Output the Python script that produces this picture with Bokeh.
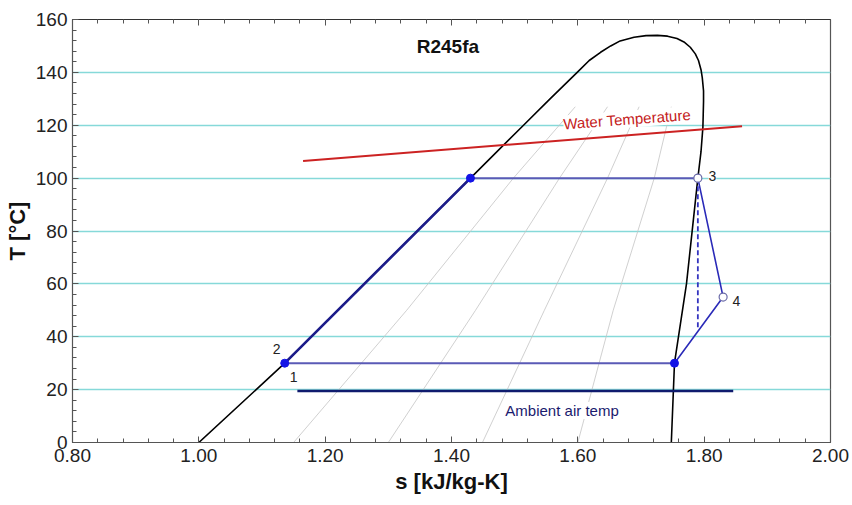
from bokeh.plotting import figure
from bokeh.models import (LinearAxis, SingleIntervalTicker, NumeralTickFormatter,
                          Range1d, Label, CustomLabelingPolicy)
from bokeh.embed import file_html
from bokeh.resources import INLINE

# ---------------- data ----------------
# saturation dome (liquid side -> critical point -> vapour side)
dome_s = [1.000, 1.136, 1.262, 1.430, 1.472, 1.514, 1.556, 1.599, 1.618, 1.636,
          1.652, 1.667, 1.689, 1.708, 1.726, 1.742, 1.757, 1.768, 1.778, 1.786,
          1.791, 1.795, 1.797, 1.799, 1.799, 1.7985, 1.798, 1.795, 1.790, 1.772,
          1.753, 1.748]
dome_T = [0, 30, 60, 100, 110, 120, 130, 140, 144.5, 147.6,
          150, 151.9, 153.3, 153.9, 154.0, 153.7, 152.8, 151.5, 149.5, 147,
          144.5, 141, 138, 133, 129, 124, 119.3, 110, 100, 60,
          30, 0]

# constant-quality lines (x = 0.2, 0.4, 0.6, 0.8)
q_T = [0, 50, 100, 127]
q02_s = [1.150, 1.329, 1.498, 1.596]
q04_s = [1.300, 1.438, 1.571, 1.647]
q06_s = [1.449, 1.547, 1.647, 1.697]
q08_s = [1.600, 1.656, 1.721, 1.748]

# water temperature line
water_s = [1.165, 1.860]
water_T = [106.5, 119.6]

# ambient air temperature line
amb_s = [1.156, 1.846]
amb_T = [19.5, 19.5]

# ORC cycle
pump_heat_s = [1.136, 1.430]      # 2 -> saturated liquid at 100 C
pump_heat_T = [30, 100]
evap_s = [1.430, 1.790]           # evaporation at 100 C -> 3
evap_T = [100, 100]
expander_s = [1.790, 1.830, 1.753]  # 3 -> 4 -> saturated vapour at 30 C
expander_T = [100, 55, 30]
isentropic_s = [1.790, 1.790]     # ideal expansion (dashed)
isentropic_T = [100, 42.5]
cond_s = [1.753, 1.136]           # condensation at 30 C -> 1
cond_T = [30, 30]

filled_s = [1.136, 1.430, 1.753]
filled_T = [30, 100, 30]
open_s = [1.790, 1.830]
open_T = [100, 55]

state_labels = ["1", "2", "3", "4"]
state_s = [1.150, 1.123, 1.813, 1.851]
state_T = [24.7, 35.2, 100.7, 53.4]

x_ticks_interval = 0.2
y_ticks_interval = 20

FONT = "Liberation Sans"

# ---------------- figure ----------------
p = figure(width=852, height=505, output_backend="svg", toolbar_location=None,
           x_range=Range1d(0.80, 2.00), y_range=Range1d(0, 160),
           min_border_left=72, min_border_right=22, min_border_top=19,
           min_border_bottom=63, x_axis_location="below", y_axis_location="left")
p.background_fill_color = "white"
p.border_fill_color = "white"
p.outline_line_color = "#555555"
p.outline_line_width = 1.2

xt = SingleIntervalTicker(interval=x_ticks_interval, num_minor_ticks=5)
yt = SingleIntervalTicker(interval=y_ticks_interval, num_minor_ticks=5)
p.xaxis.ticker = xt
p.yaxis.ticker = yt
p.xaxis.formatter = NumeralTickFormatter(format="0.00")

for ax in (p.xaxis[0], p.yaxis[0]):
    ax.major_tick_in = 6
    ax.major_tick_out = 0
    ax.minor_tick_in = 4
    ax.minor_tick_out = 0
    ax.axis_line_color = "#555555"
    ax.major_tick_line_color = "#555555"
    ax.minor_tick_line_color = "#555555"
    ax.major_label_text_font = FONT
    ax.major_label_text_font_size = "19px"
    ax.major_label_text_color = "#222222"
    ax.axis_label_text_font = FONT
    ax.axis_label_text_font_size = "22px"
    ax.axis_label_text_font_style = "bold"
    ax.axis_label_text_color = "#111111"

p.xaxis.axis_label = "s [kJ/kg-K]"
p.yaxis.axis_label = "T [°C]"
p.xaxis.major_label_standoff = 6
p.yaxis.major_label_standoff = 5
p.xaxis.axis_label_standoff = 4
p.yaxis.axis_label_standoff = 3

# top axis: ticks only, no labels
top = LinearAxis(ticker=SingleIntervalTicker(interval=x_ticks_interval, num_minor_ticks=5),
                 major_label_policy=CustomLabelingPolicy(code="return []"),
                 major_tick_in=6, major_tick_out=0,
                 minor_tick_in=4, minor_tick_out=0, axis_line_color="#333333",
                 major_tick_line_color="#555555", minor_tick_line_color="#555555")
p.add_layout(top, "above")

p.xgrid.grid_line_color = None
p.ygrid.ticker = yt
p.ygrid.grid_line_color = "#86d9d9"
p.ygrid.grid_line_width = 1.4

# quality lines
for qs in (q02_s, q04_s, q06_s, q08_s):
    p.line(qs, q_T, line_color="#c4c4c4", line_width=0.8)

# saturation dome
p.line(dome_s, dome_T, line_color="#000000", line_width=1.6, line_join="round")

# water & ambient lines
p.line(water_s, water_T, line_color="#cc2222", line_width=2)
p.line(amb_s, amb_T, line_color="#0f1b6e", line_width=2.5)

# cycle
p.line(pump_heat_s, pump_heat_T, line_color="#1c1c8a", line_width=2.6)
p.line(evap_s, evap_T, line_color="#5a5ab6", line_width=2)
p.line(cond_s, cond_T, line_color="#5a5ab6", line_width=2)
p.line(expander_s, expander_T, line_color="#2a2ab8", line_width=1.6)
p.line(isentropic_s, isentropic_T, line_color="#3434c0", line_width=1.8, line_dash="5 3")

p.scatter(filled_s, filled_T, size=8, marker="circle", fill_color="#1414e6",
          line_color="#1414e6")
p.scatter(open_s, open_T, size=8, marker="circle", fill_color="white",
          line_color="#6a6aa8", line_width=1.2)

# state labels
for t, sx, sy in zip(state_labels, state_s, state_T):
    p.add_layout(Label(x=sx, y=sy, text=t, text_align="center", text_baseline="middle",
                       text_font=FONT, text_font_size="14px", text_color="#222222",
                       background_fill_color="white" if t == "3" else None))

p.add_layout(Label(x=1.678, y=122.3, text="Water Temperature", angle=0.074,
                   text_align="center", text_baseline="middle", text_font=FONT,
                   text_font_size="15px", text_color="#c42020",
                   background_fill_color="white"))
p.add_layout(Label(x=1.575, y=12.1, text="Ambient air temp",
                   text_align="center", text_baseline="middle", text_font=FONT,
                   text_font_size="15px", text_color="#1a1a6e",
                   background_fill_color="white"))
p.add_layout(Label(x=1.345, y=149.8, text="R245fa", text_align="left",
                   text_baseline="middle", text_font=FONT, text_font_size="19px",
                   text_font_style="bold", text_color="#111111"))

open("out.html", "w").write(file_html(p, INLINE))
